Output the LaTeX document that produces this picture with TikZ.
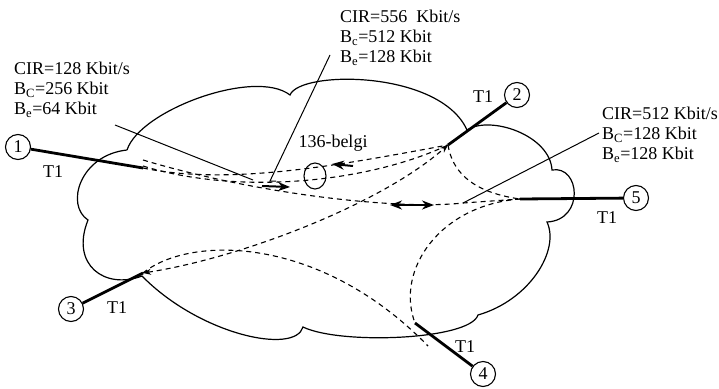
\documentclass[tikz,border=0pt]{standalone}
\usepackage{fontspec}
\setmainfont{Liberation Serif}
\usetikzlibrary{arrows.meta,positioning,shapes.geometric}

\begin{document}
\begin{tikzpicture}[x=1pt, y=-1pt, >=Stealth,
  font=\fontsize{18}{20}\selectfont,
  cloud/.style={line width=1.2pt},
  trunk/.style={line width=2.8pt},
  pvc/.style={dashed, dash pattern=on 5pt off 4pt, line width=1.1pt},
  ptr/.style={line width=1pt},
  site/.style={draw, circle, line width=1.1pt, minimum size=25pt, inner sep=0pt},
  param/.style={align=left, anchor=north west, inner sep=0pt},
  flow/.style={line width=2pt, -{Stealth[length=12pt,width=9pt]}}]
\useasboundingbox (0,0) rectangle (719,388);

% cloud
\draw[cloud] (127,150) .. controls (140,110) and (255,68) .. (290,95)
  .. controls (300,70) and (440,70) .. (467,130)
  .. controls (490,115) and (550,135) .. (552,170)
  .. controls (580,165) and (585,220) .. (547,222)
  .. controls (560,250) and (530,300) .. (478,315)
  .. controls (470,340) and (340,345) .. (303,327)
  .. controls (295,355) and (200,335) .. (142,276)
  .. controls (105,290) and (70,265) .. (88,220)
  .. controls (65,205) and (80,155) .. (127,150);

% sites
\node[site] (n1) at (18,147) {1};
\node[site] (n2) at (517,95) {2};
\node[site] (n3) at (71,309) {3};
\node[site] (n4) at (483,374) {4};
\node[site] (n5) at (636,198) {5};

\coordinate (e1) at (143,168);
\coordinate (e2) at (448,145);
\coordinate (e3) at (143,273);
\coordinate (e4) at (415,323);
\coordinate (e5) at (520,199);
\coordinate (c4) at (428,346);

\draw[trunk] (n1) -- (e1);
\draw[trunk] (n2) -- (e2);
\draw[trunk] (n3) -- (e3);
\draw[trunk] (n4) -- (e4);
\draw[trunk] (n5) -- (e5);

\node (t1) at (53,172) {T1};
\node (t2) at (483,97) {T1};
\node (t3) at (117,308) {T1};
\node (t4) at (465,347) {T1};
\node (t5) at (607,218) {T1};

% virtual channels
\draw[pvc] (e1) .. controls (230,186) and (340,165) .. (e2);
\draw[pvc] ([yshift=2pt]e1) .. controls (240,196) and (370,182) .. (e2);
\draw[pvc] ([yshift=8pt]e1) .. controls (260,195) and (400,210) .. (463,203) -- (e5);
\draw[pvc, <->] (e3) .. controls (240,258) and (380,205) .. (e2);
\draw[pvc] (e3) .. controls (190,235) and (320,235) .. (c4);
\draw[pvc] (e2) .. controls (452,170) and (470,192) .. (e5);
\draw[pvc] (e5) .. controls (440,205) and (395,270) .. (e4);

% flow arrows
\coordinate (fa) at (262,186);
\coordinate (fb) at (290,187);
\coordinate (fc) at (353,166);
\coordinate (fd) at (332,164);
\coordinate (fe) at (390,205);
\coordinate (ff) at (434,205);
\draw[flow] (fa) -- (fb);
\draw[flow] (fc) -- (fd);
\draw[flow, {Stealth[length=12pt,width=9pt]}-{Stealth[length=12pt,width=9pt]}] (fe) -- (ff);

% 136-belgi
\node[draw, ellipse, line width=1.1pt, minimum width=22pt, minimum height=26pt, inner sep=0pt] (b136) at (315,176) {};
\node (lb136) at (333,143) {136-belgi};

% parameters
\node[param] (p1) at (14,62) {CIR=128 Kbit/s\\B\textsubscript{C}=256 Kbit\\B\textsubscript{e}=64 Kbit};
\node[param] (p2) at (340,10) {CIR=556 \ Kbit/s\\B\textsubscript{c}=512 Kbit\\B\textsubscript{e}=128 Kbit};
\node[param] (p3) at (602,107) {CIR=512 Kbit/s\\B\textsubscript{C}=128 Kbit\\B\textsubscript{e}=128 Kbit};

\coordinate (q1a) at (115,125);
\coordinate (q1b) at (253,180);
\coordinate (q2a) at (330,55);
\coordinate (q2b) at (270,181);
\coordinate (q3a) at (599,133);
\coordinate (q3b) at (463,203);
\draw[ptr] (q1a) -- (q1b);
\draw[ptr] (q2a) -- (q2b) -- ++(6,0);
\draw[ptr] (q3a) -- (q3b);
\end{tikzpicture}
\end{document}
